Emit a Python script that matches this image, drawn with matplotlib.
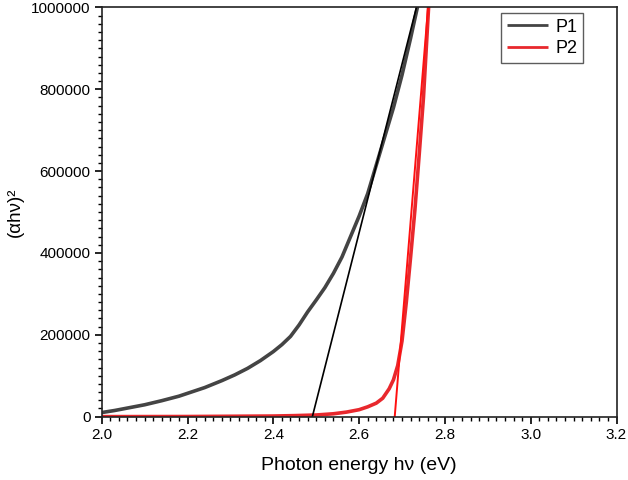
import matplotlib
matplotlib.use('Agg')
import matplotlib.pyplot as plt
from matplotlib.ticker import MultipleLocator

plt.rcParams['font.family'] = ['Liberation Sans', 'DejaVu Sans']

# P1 absorption curve
p1_energy = [2.00, 2.03, 2.06, 2.10, 2.14, 2.18, 2.20, 2.24, 2.28, 2.31, 2.34, 2.37,
             2.40, 2.42, 2.44, 2.46, 2.48, 2.50, 2.52, 2.54, 2.56, 2.58, 2.60, 2.62,
             2.64, 2.66, 2.68, 2.70, 2.72, 2.74]
p1_value = [10000, 15000, 21000, 29000, 39000, 50000, 57000, 71000, 88000, 102000, 118000, 137000,
            159000, 176000, 196000, 224000, 256000, 285000, 315000, 350000, 390000, 440000, 490000, 545000,
            615000, 685000, 755000, 835000, 925000, 1020000]

# P2 absorption curve
p2_energy = [2.00, 2.20, 2.40, 2.45, 2.50, 2.54, 2.57, 2.60, 2.62, 2.64, 2.655, 2.67,
             2.68, 2.69, 2.70, 2.71, 2.72, 2.73, 2.74, 2.75, 2.763]
p2_value = [0, 300, 1500, 2500, 4000, 7000, 11000, 17000, 24000, 33000, 45000, 68000,
            90000, 125000, 185000, 280000, 390000, 505000, 640000, 780000, 1020000]

# linear extrapolations (Tauc fits)
fit1_energy = [2.491, 2.736]
fit1_value = [0, 1010000]
fit2_energy = [2.683, 2.7615]
fit2_value = [0, 1010000]

fig = plt.figure(figsize=(6.28, 4.8), dpi=100)
ax = fig.add_axes([0.162, 0.132, 0.8197, 0.8525])

ax.plot(p1_energy, p1_value, color='#444444', lw=2.6, label='P1', solid_capstyle='butt')
ax.plot(p2_energy, p2_value, color='#e8282d', lw=2.6, label='P2', solid_capstyle='butt')
ax.plot(fit1_energy, fit1_value, color='black', lw=1.2)
ax.plot(fit2_energy, fit2_value, color='#ff1010', lw=1.4)

ax.set_xlim(2.0, 3.2)
ax.set_ylim(0, 1000000)
ax.xaxis.set_major_locator(MultipleLocator(0.2))
ax.xaxis.set_minor_locator(MultipleLocator(0.02))
ax.yaxis.set_major_locator(MultipleLocator(200000))
ax.yaxis.set_minor_locator(MultipleLocator(20000))
ax.xaxis.set_major_formatter(plt.FuncFormatter(lambda v, p: f'{v:.1f}'))
ax.yaxis.set_major_formatter(plt.FuncFormatter(lambda v, p: f'{int(round(v))}'))

ax.tick_params(which='major', direction='out', length=5, width=1.2, labelsize=11, colors='black', pad=3)
ax.tick_params(which='minor', direction='out', length=3, width=1.0)
ax.tick_params(top=False, right=False)
for s in ax.spines.values():
    s.set_linewidth(1.2)
    s.set_color('#222222')

ax.set_xlabel('Photon energy hν (eV)', fontsize=14, labelpad=11)
ax.set_ylabel('(αhν)²', fontsize=13.5, labelpad=5)

leg = ax.legend(loc='upper right', bbox_to_anchor=(0.935, 0.986), borderaxespad=0,
                fontsize=13, frameon=True, fancybox=False, edgecolor='#333333',
                handlelength=2.3, handletextpad=0.4, borderpad=0.3, labelspacing=0.25)
leg.get_frame().set_linewidth(1.0)
for line in leg.get_lines():
    line.set_linewidth(2.0)

fig.savefig('out.png', dpi=100)
